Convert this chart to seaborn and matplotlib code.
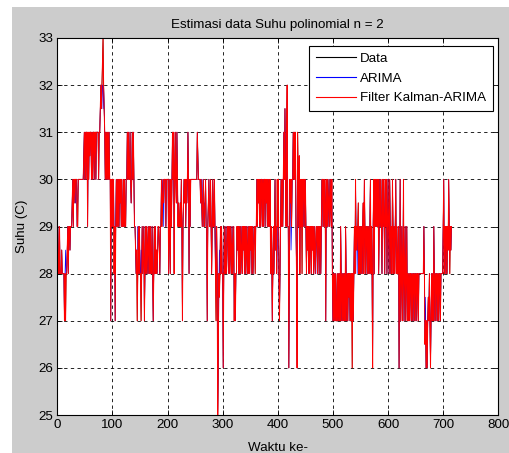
import numpy as np
import pandas as pd
import matplotlib
matplotlib.use("Agg")
import matplotlib.pyplot as plt
from matplotlib.patches import Rectangle
import seaborn as sns

# Filter Kalman-ARIMA output, read per time step (blocks of 10)
kalman = [
    29, 28, 28, 29, 28, 28, 28, 28.5, 28, 28,
    28, 28, 27, 28, 27, 28, 28, 28.5, 29, 28,
    29, 29, 28.5, 29, 29, 29, 29.5, 30, 29, 30,
    30, 29.5, 30, 30, 30, 29, 29, 30, 30, 30,
    30, 30, 30, 30, 30, 30, 30, 30.5, 31, 30,
    31, 30, 31, 31, 29, 31, 30, 31, 30.5, 31,
    31, 30, 31, 30, 31, 31, 30, 31, 31, 30,
    31, 31, 31, 31, 30, 31, 31, 31.5, 32, 31.5,
    32, 32.5, 33, 32, 31.5, 31, 30, 31, 30, 31,
    30, 31, 30, 31, 30, 30, 27, 30, 29, 30,
    29, 30, 28, 29, 27, 29, 30, 29, 30, 29,
    30, 29, 30, 29.5, 30, 29, 30, 29, 29, 30,
    29, 30, 29, 29, 30, 30, 31, 30, 31, 30,
    30, 31, 30, 29.5, 30, 31, 30, 31, 30, 29,
    29, 28.5, 28, 28.5, 27, 28, 29, 28, 29, 28,
    28, 27, 28, 29, 28, 28.5, 29, 27, 28, 29,
    28, 29, 28, 28.5, 29, 28, 29, 28, 29, 28,
    28, 29, 28, 27, 28, 29, 28, 29, 28, 28.5,
    28, 28.5, 29, 29, 28.5, 28, 29, 29, 30, 29,
    29.5, 30, 29.5, 30, 30, 30, 29, 30, 30, 30,
    30, 28, 30, 29, 28, 30, 29, 30, 31, 30,
    31, 28, 30, 31, 30, 29.5, 31, 30, 29, 29.5,
    29, 29, 29.5, 29, 30, 29, 27, 29, 29.5, 30,
    29.5, 30, 29, 30, 29.5, 30, 31, 30, 28, 30,
    29, 30, 30, 30, 30, 30, 30, 30, 30, 30,
    30, 30, 30, 31, 30.5, 30, 30, 30, 30, 29.5,
    30, 29.5, 29, 29.5, 30, 29, 29, 29.5, 30, 29,
    29, 27, 29, 29.5, 30, 29, 29, 30, 29, 28,
    29, 30, 29, 29, 30, 29, 28, 27, 29, 28,
    25, 26, 28, 27.5, 28, 29, 28, 29, 28, 28,
    26, 28, 29, 28, 28, 29, 28, 28.5, 29, 29,
    28, 29, 28, 29, 28.5, 28, 29, 28, 28.5, 29,
    27, 28, 27, 28, 28, 29, 28.5, 29, 28, 29,
    28, 29, 28, 28.5, 29, 28, 29, 28.5, 29, 28,
    29, 28, 29, 28.5, 28, 29, 28, 29, 28, 29,
    28.5, 29, 28, 29, 28, 28.5, 29, 29, 28, 29,
    29, 30, 29, 30, 29.5, 30, 29, 30, 29, 30,
    30, 29, 30, 29, 30, 30, 29, 30, 29.5, 30,
    29, 30, 29, 30, 29, 30, 28, 29, 28.5, 27,
    28, 29, 28, 29, 30, 28.5, 29, 28, 30, 29,
    30, 28, 27, 28, 29, 30, 29, 30, 29, 30,
    31, 30, 31.5, 30, 29, 31, 32, 29, 29, 26,
    28, 30, 29.5, 30, 29, 30, 30, 31, 30, 31,
    30, 31, 29, 28, 26, 31, 30, 29, 30.5, 28,
    30, 29, 30, 28, 30, 29, 30, 30, 29, 30,
    29, 28, 29, 28.5, 29, 28, 29, 28, 29, 29,
    28, 29, 28.5, 29, 28, 28.5, 29, 28, 28.5, 29,
    29, 28, 29, 29, 28, 29, 29, 28, 29, 30,
    30, 29, 30, 29, 30, 29.5, 27, 30, 29, 30,
    29, 29.5, 30, 29, 29.5, 30, 29, 30, 28, 27,
    28, 27, 28, 27, 28, 27, 27, 28, 27, 28,
    27, 28, 27, 29, 28, 27, 28, 27, 28, 27,
    28, 27, 29, 28, 27, 28, 27, 28, 27.5, 28,
    27, 28, 27, 28, 26, 28, 27, 28, 29, 28,
    30, 28.5, 29, 28.5, 29, 29.5, 28, 29, 28, 29,
    28, 29, 28, 29, 29.5, 28, 30, 29, 28, 29,
    29, 28, 29, 28, 29, 28, 29, 30, 28, 29,
    28, 26, 29, 30, 28, 30, 29, 30, 29, 30,
    29, 30, 28, 29, 30, 29, 30, 29, 28, 30,
    29, 30, 29, 28, 30, 29, 30, 28, 29, 30,
    29, 28, 30, 29, 28, 29, 28, 30, 29, 28,
    29, 28, 29, 30, 28, 29, 28, 28, 29, 26,
    28, 30, 27, 28, 29, 27, 28, 30, 27, 28,
    29, 27, 28, 29, 27, 28, 27, 28, 27, 28,
    28, 27, 28, 27, 28, 28, 27, 28, 27, 28,
    28, 27, 28, 28, 27, 28, 28, 28, 28, 28,
    28, 28, 28, 28, 29, 28, 26.5, 27, 26, 27,
    26, 27, 27.5, 27, 28, 27, 26, 27, 28, 27,
    28, 27, 29, 28, 27, 28, 27, 28, 28, 27,
    28, 27, 28, 28, 27, 28, 28, 28, 28, 29,
    30, 28, 29, 29, 28, 29, 28, 29, 28.5, 30,
    29, 28, 29, 28.5, 29,
]

# ARIMA coincides with the filtered series except at these steps
arima_idx = [14, 32, 36, 81, 82, 102, 144, 145, 151, 189, 192, 219, 263, 266,
             272, 287, 292, 293, 358, 398, 413, 415, 423, 435, 443, 468, 533,
             534, 541, 543, 545, 667, 711]
arima_val = [28.5, 29.5, 29.5, 32, 31.5, 29, 28.5, 29, 28.5, 30, 29, 29, 30, 29.5,
             29, 29, 27.5, 28.5, 28.5, 28.5, 30.5, 30, 28.5, 28.5, 29.5, 28, 27.5,
             27, 29, 28, 28.5, 27.5, 28.5]

# measured data is hidden under the filtered line
data = list(kalman)
arima = list(kalman)
for i, v in zip(arima_idx, arima_val):
    arima[i] = v

t = np.arange(1, len(kalman) + 1)
df = pd.DataFrame({"t": t, "data": data, "arima": arima, "kalman": kalman})

plt.rcParams["font.family"] = ["Liberation Sans", "DejaVu Sans"]
fs = 9.6

fig = plt.figure(figsize=(5.10, 4.53), dpi=100, facecolor="white")
fig.patches.append(Rectangle((12 / 510, 0), 1, 1 - 7 / 453, transform=fig.transFigure,
                             facecolor="#cccccc", edgecolor="none", zorder=-10))
ax = fig.add_axes([57.3 / 510, (453 - 415) / 453, 441 / 510, 377 / 453])
ax.set_facecolor("white")

sns.lineplot(data=df, x="t", y="data", ax=ax, color="black", linewidth=0.5,
             sort=False, estimator=None, label="Data")
sns.lineplot(data=df, x="t", y="arima", ax=ax, color="blue", linewidth=0.5,
             sort=False, estimator=None, label="ARIMA")
sns.lineplot(data=df, x="t", y="kalman", ax=ax, color="red", linewidth=0.72,
             sort=False, estimator=None, label="Filter Kalman-ARIMA")

ax.set_xlim(0, 800)
ax.set_ylim(25, 33)
ax.set_xticks(range(0, 801, 100))
ax.set_yticks(range(25, 34))
ax.grid(True, color="black", linestyle=(0, (4, 4)), linewidth=0.6)
ax.tick_params(direction="in", length=3.5, width=0.6, top=True, right=True,
               labelsize=fs, colors="black", pad=3)
for s in ax.spines.values():
    s.set_color("black")
    s.set_linewidth(0.8)

ax.set_title("Estimasi data Suhu polinomial n = 2", fontsize=fs, pad=7)
ax.set_xlabel("Waktu ke-", fontsize=fs, labelpad=7.5)
ax.set_ylabel("Suhu (C)", fontsize=fs, labelpad=7)

leg = ax.legend(loc="upper right", bbox_to_anchor=(0.988, 0.979), fancybox=False,
                edgecolor="black", framealpha=1, fontsize=fs, handlelength=3.0,
                handletextpad=0.35, labelspacing=0.55, borderpad=0.5, borderaxespad=0)
leg.get_frame().set_linewidth(0.8)
for h in leg.get_lines():
    h.set_linewidth(0.8)

fig.savefig("out.png", dpi=100, facecolor=fig.get_facecolor())
